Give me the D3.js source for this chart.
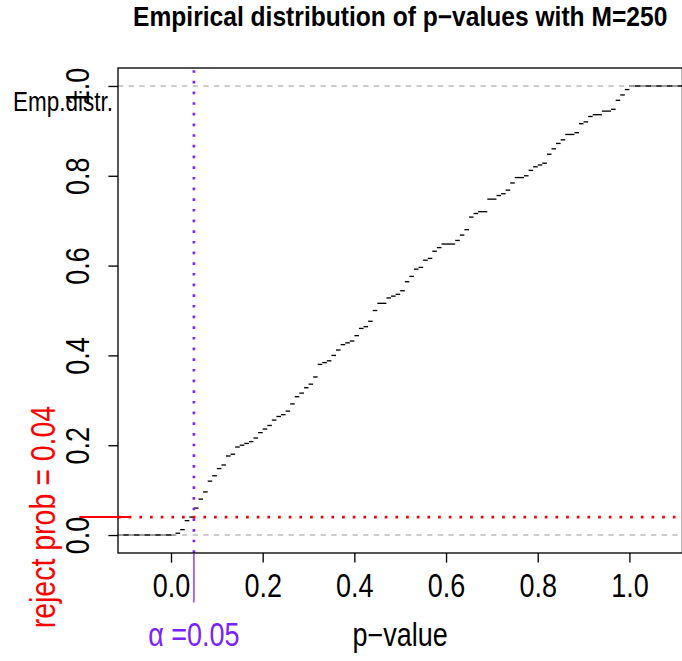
<!DOCTYPE html>
<html>
<head>
<meta charset="utf-8">
<script src="https://cdn.jsdelivr.net/npm/d3@7"></script>
<style>
  body { margin: 0; background: #fff; }
  svg { display: block; }
  text { font-family: "Liberation Sans", Arial, Helvetica, sans-serif; }
</style>
</head>
<body>
<svg id="chart" width="682" height="661"></svg>
<script>
// Number of simulated p-values and the test level
const M = 250;
const alpha = 0.05;

// Distinct observed p-values (knots of the empirical CDF)
const pKnots = [
  0.01, 0.02, 0.03, 0.04, 0.05, 0.06, 0.07, 0.08, 0.09, 0.10,
  0.11, 0.12, 0.13, 0.14, 0.15, 0.16, 0.17, 0.18, 0.19, 0.20,
  0.21, 0.22, 0.23, 0.24, 0.25, 0.26, 0.27, 0.28, 0.29, 0.30,
  0.31, 0.32, 0.33, 0.34, 0.35, 0.36, 0.37, 0.38, 0.39, 0.40,
  0.41, 0.42, 0.43, 0.44, 0.45, 0.47, 0.48, 0.49, 0.50,
  0.51, 0.52, 0.53, 0.54, 0.55, 0.56, 0.57, 0.58, 0.59,
  0.62, 0.63, 0.64, 0.65, 0.66, 0.67, 0.69,
  0.71, 0.72, 0.73, 0.74, 0.75, 0.77, 0.78, 0.79, 0.80,
  0.81, 0.82, 0.83, 0.84, 0.85, 0.86, 0.88, 0.89, 0.90,
  0.91, 0.92, 0.94, 0.96, 0.97, 0.98, 0.99, 1.00
];

// How many of the M p-values sit at each knot
const pCounts = [
  1, 2, 5, 2, 5, 5, 4, 6, 3, 4,
  2, 5, 1, 4, 1, 1, 1, 2, 3, 2,
  2, 3, 2, 1, 2, 4, 4, 2, 3, 2,
  4, 7, 1, 1, 3, 3, 3, 1, 1, 3,
  4, 1, 3, 6, 4, 3, 1, 1, 2,
  5, 3, 4, 1, 4, 1, 4, 2, 2,
  2, 3, 3, 7, 2, 1, 7,
  2, 1, 2, 4, 3, 1, 3, 2, 1,
  1, 5, 3, 3, 2, 3, 1, 5, 1,
  3, 1, 2, 1, 5, 3, 3, 2
];

const xTicks = [0, 0.2, 0.4, 0.6, 0.8, 1.0];
const yTicks = [0, 0.2, 0.4, 0.6, 0.8, 1.0];

const titleText = "Empirical distribution of p\u2212values with M=" + M;
const xLabel = "p\u2212value";
const yLabel = "Emp.distr.";

// Plot window in data units
const xlim = [-0.1156, 1.1156];
const ylim = [-0.04, 1.04];

const svg = d3.select("#chart");
const box = { left: 118, right: 682.4, top: 68, bottom: 553 };

const x = d3.scaleLinear().domain(xlim).range([box.left, box.right]);
const y = d3.scaleLinear().domain(ylim).range([box.bottom, box.top]);

const purple = "#7a22ff";
const red = "#ff0000";
const lw = 1.33;
const stretch = 1.2;   // tall, narrow lettering

svg.append("defs").append("clipPath").attr("id", "plotClip")
  .append("rect")
  .attr("x", box.left).attr("y", box.top)
  .attr("width", box.right - box.left).attr("height", box.bottom - box.top);

const plot = svg.append("g").attr("clip-path", "url(#plotClip)");

// Empirical CDF as horizontal steps (no verticals)
const cum = d3.cumsum(pCounts).map(c => c / M);
const steps = [{ x0: xlim[0], x1: pKnots[0], f: 0 }];
pKnots.forEach((p, i) => {
  steps.push({ x0: p, x1: i < pKnots.length - 1 ? pKnots[i + 1] : xlim[1], f: cum[i] });
});
plot.selectAll("line.step").data(steps).join("line")
  .attr("class", "step")
  .attr("x1", d => x(d.x0)).attr("x2", d => x(d.x1))
  .attr("y1", d => y(d.f)).attr("y2", d => y(d.f))
  .attr("stroke", "#000").attr("stroke-width", lw);

// Reference lines at 0 and 1
plot.selectAll("line.ref01").data([0, 1]).join("line")
  .attr("class", "ref01")
  .attr("x1", box.left).attr("x2", box.right)
  .attr("y1", d => y(d)).attr("y2", d => y(d))
  .attr("stroke", "#bdbdbd").attr("stroke-width", lw)
  .attr("stroke-dasharray", "5.33 5.33");

// Rejection probability: share of p-values below alpha
const rejectProb = d3.sum(pKnots.map((p, i) => p < alpha ? pCounts[i] : 0)) / M;

// Vertical dotted line at alpha
plot.append("line")
  .attr("x1", x(alpha)).attr("x2", x(alpha))
  .attr("y1", box.bottom).attr("y2", box.top)
  .attr("stroke", purple).attr("stroke-width", 2.67)
  .attr("stroke-dasharray", "2.67 8");

// Horizontal dotted line at the rejection probability
plot.append("line")
  .attr("x1", box.left).attr("x2", box.right)
  .attr("y1", y(rejectProb)).attr("y2", y(rejectProb))
  .attr("stroke", red).attr("stroke-width", 2.67)
  .attr("stroke-dasharray", "2.67 8");

// Frame
svg.append("rect")
  .attr("x", box.left).attr("y", box.top)
  .attr("width", box.right - box.left).attr("height", box.bottom - box.top)
  .attr("fill", "none").attr("stroke", "#000").attr("stroke-width", lw);

// Axes
const axisFont = 27;
const gx = svg.append("g").attr("transform", `translate(0,${box.bottom})`)
  .call(d3.axisBottom(x).tickValues(xTicks).tickFormat(d3.format(".1f"))
    .tickSize(9.6).tickSizeOuter(0));
gx.select(".domain").remove();
gx.selectAll("line").attr("stroke", "#000").attr("stroke-width", lw);
gx.selectAll("text").attr("font-size", axisFont).attr("fill", "#000")
  .style("font-family", "'Liberation Sans', Arial, sans-serif")
  .attr("y", 0).attr("dy", 0)
  .attr("transform", `translate(0,44) scale(1,${stretch})`);

const gy = svg.append("g").attr("transform", `translate(${box.left},0)`)
  .call(d3.axisLeft(y).tickValues(yTicks).tickFormat(d3.format(".1f"))
    .tickSize(9.6).tickSizeOuter(0));
gy.select(".domain").remove();
gy.selectAll("line").attr("stroke", "#000").attr("stroke-width", lw);
gy.selectAll("text")
  .attr("font-size", axisFont).attr("fill", "#000")
  .style("font-family", "'Liberation Sans', Arial, sans-serif")
  .attr("x", 0).attr("y", 0).attr("dy", 0)
  .attr("transform", `translate(-29,0) rotate(-90) scale(1,${stretch})`)
  .attr("text-anchor", "middle");

// Margin markers for alpha and the rejection probability
svg.append("line")
  .attr("x1", x(alpha)).attr("x2", x(alpha))
  .attr("y1", y(-0.04)).attr("y2", y(-0.15))
  .attr("stroke", purple).attr("stroke-width", lw);
svg.append("line")
  .attr("x1", x(-0.2)).attr("x2", x(-0.09))
  .attr("y1", y(rejectProb)).attr("y2", y(rejectProb))
  .attr("stroke", red).attr("stroke-width", 2);

// Title and labels
function label(tx, ty, str, size, opts = {}) {
  return svg.append("text")
    .attr("transform", `translate(${tx},${ty}) ${opts.rotate ? "rotate(-90)" : ""} scale(1,${opts.stretch || stretch})`)
    .attr("text-anchor", opts.anchor || "middle")
    .attr("font-weight", opts.bold ? "bold" : null)
    .attr("font-size", size)
    .attr("fill", opts.fill || "#000")
    .text(str);
}

label((box.left + box.right) / 2, 26, titleText, 24.6, { bold: true, stretch: 1.12 });
label((box.left + box.right) / 2, 646, xLabel, 27);
label(113, 111, yLabel, 22.5, { anchor: "end" });
label(x(alpha), 646, "\u03b1 =" + alpha, 27, { fill: purple });
label(55, y(rejectProb), "reject prob = " + rejectProb, 28.5, { fill: red, rotate: true });
</script>
</body>
</html>
